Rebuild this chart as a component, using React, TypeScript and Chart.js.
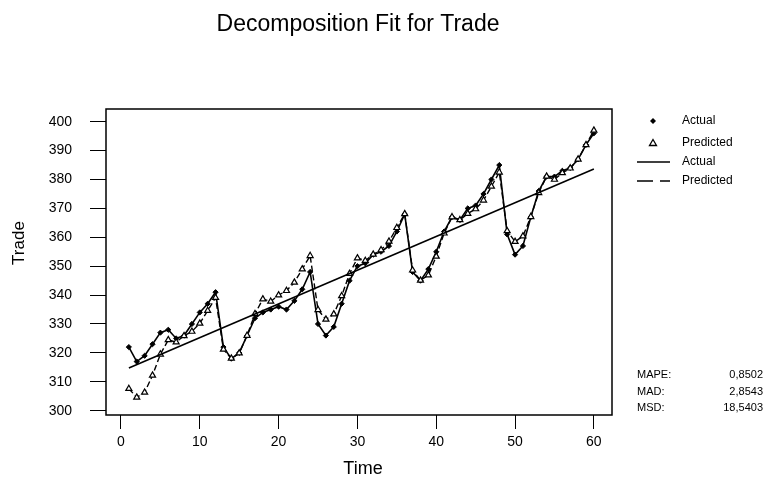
import React, { useEffect, useRef } from "react";
import { Chart, registerables } from "chart.js";

Chart.register(...registerables);

const actualValues = [
  322, 317, 319, 323, 327, 328, 325, 326, 330, 334, 337, 341,
  322, 318, 320, 326, 332, 334, 335, 336, 335, 338, 342, 348,
  330, 326, 329, 337, 345, 350, 351, 354, 355, 357, 362, 368,
  348, 345, 349, 355, 362, 367, 366, 370, 371, 375, 380, 385,
  361, 354, 357, 367, 376, 381, 381, 383, 384, 387, 392, 396,
];

const predictedValues = [
  307.6, 304.6, 306.3, 312.2, 319.5, 324.5, 323.7, 325.9, 327.4, 330.2, 334.6, 339.1,
  321.2, 318.1, 319.9, 326.0, 333.5, 338.6, 337.8, 340.0, 341.5, 344.4, 349.0, 353.6,
  334.9, 331.6, 333.4, 339.7, 347.4, 352.8, 351.9, 354.1, 355.6, 358.6, 363.3, 368.1,
  348.6, 345.1, 346.9, 353.4, 361.4, 367.0, 366.0, 368.2, 369.8, 372.8, 377.6, 382.5,
  362.2, 358.5, 360.4, 367.1, 375.4, 381.1, 380.0, 382.3, 383.9, 387.0, 392.0, 397.0,
];

const trendTimes = [1, 60];
const trendValues = [314.8, 383.6];

const xTickValues = [0, 10, 20, 30, 40, 50, 60];
const yTickValues = [300, 310, 320, 330, 340, 350, 360, 370, 380, 390, 400];

const statLabels = ["MAPE:", "MAD:", "MSD:"];
const statValues = ["0,8502", "2,8543", "18,5403"];

const FONT = "'Liberation Sans', Arial, Helvetica, sans-serif";

const decorPlugin = {
  id: "decor",
  afterDraw(chart: any) {
    const ctx = chart.ctx;
    const a = chart.chartArea;
    ctx.save();
    // frame
    ctx.strokeStyle = "#000";
    ctx.lineWidth = 1.5;
    ctx.setLineDash([]);
    ctx.strokeRect(a.left, a.top, a.right - a.left, a.bottom - a.top);

    ctx.fillStyle = "#000";
    // title
    ctx.font = `23px ${FONT}`;
    ctx.textAlign = "center";
    ctx.textBaseline = "alphabetic";
    ctx.fillText("Decomposition Fit for Trade", 358, 31);

    // axis titles
    ctx.font = `18px ${FONT}`;
    ctx.textBaseline = "middle";
    ctx.fillText("Time", 363, 469);
    ctx.save();
    ctx.translate(19.5, 243);
    ctx.rotate(-Math.PI / 2);
    ctx.font = `17px ${FONT}`;
    ctx.fillText("Trade", 0, 0);
    ctx.restore();

    // legend
    ctx.font = `12px ${FONT}`;
    ctx.textAlign = "left";
    ctx.textBaseline = "middle";
    const lx = 682;
    // diamond
    ctx.beginPath();
    ctx.moveTo(653, 118);
    ctx.lineTo(656, 121);
    ctx.lineTo(653, 124);
    ctx.lineTo(650, 121);
    ctx.closePath();
    ctx.fill();
    ctx.fillText("Actual", lx, 121);
    // triangle
    ctx.beginPath();
    ctx.moveTo(653, 139.5);
    ctx.lineTo(656.5, 145.5);
    ctx.lineTo(649.5, 145.5);
    ctx.closePath();
    ctx.lineWidth = 1.3;
    ctx.stroke();
    ctx.fillText("Predicted", lx, 143);
    // solid line
    ctx.lineWidth = 1.5;
    ctx.beginPath();
    ctx.moveTo(637, 162);
    ctx.lineTo(670, 162);
    ctx.stroke();
    ctx.fillText("Actual", lx, 162);
    // dashed line
    ctx.setLineDash([16, 7]);
    ctx.beginPath();
    ctx.moveTo(637, 181);
    ctx.lineTo(670, 181);
    ctx.stroke();
    ctx.setLineDash([]);
    ctx.fillText("Predicted", lx, 181);

    // stats
    ctx.font = `11px ${FONT}`;
    const sy = [375, 392, 408];
    statLabels.forEach((s, i) => {
      ctx.textAlign = "left";
      ctx.fillText(s, 637, sy[i]);
      ctx.textAlign = "right";
      ctx.fillText(statValues[i], 763, sy[i]);
    });
    ctx.restore();
  },
};

export default function App() {
  const ref = useRef<HTMLCanvasElement | null>(null);

  useEffect(() => {
    if (!ref.current) return;
    const chart = new Chart(ref.current, {
      type: "line",
      data: {
        datasets: [
          {
            label: "Trend",
            data: trendTimes.map((t, i) => ({ x: t, y: trendValues[i] })),
            borderColor: "#000",
            borderWidth: 1.6,
            pointRadius: 0,
            fill: false,
          },
          {
            label: "Predicted",
            data: predictedValues.map((v, i) => ({ x: i + 1, y: v })),
            borderColor: "#000",
            borderWidth: 1.4,
            borderDash: [6, 3],
            pointStyle: "triangle",
            pointRadius: 3.5,
            pointBorderWidth: 1.2,
            pointBackgroundColor: "#fff",
            pointBorderColor: "#000",
            fill: false,
          },
          {
            label: "Actual",
            data: actualValues.map((v, i) => ({ x: i + 1, y: v })),
            borderColor: "#000",
            borderWidth: 1.6,
            pointStyle: "rectRot",
            pointRadius: 2.6,
            pointBorderWidth: 1,
            pointBackgroundColor: "#000",
            pointBorderColor: "#000",
            fill: false,
          },
        ],
      },
      options: {
        responsive: false,
        animation: false,
        layout: { padding: { left: 0, top: 109, right: 156, bottom: 0 } },
        plugins: {
          legend: { display: false },
          tooltip: { enabled: false },
          title: { display: false },
        },
        scales: {
          x: {
            type: "linear",
            min: -1.9,
            max: 62.3,
            afterBuildTicks: (s: any) => {
              s.ticks = xTickValues.map((v) => ({ value: v }));
            },
            afterFit: (s: any) => {
              s.height = 65;
            },
            grid: {
              display: true,
              drawOnChartArea: false,
              drawTicks: true,
              tickLength: 14,
              color: "#000",
              lineWidth: 1,
            },
            border: { display: false },
            ticks: {
              color: "#000",
              font: { family: FONT, size: 14 },
              padding: 5,
              maxRotation: 0,
              autoSkip: false,
            },
          },
          y: {
            type: "linear",
            min: 298.5,
            max: 404.4,
            afterBuildTicks: (s: any) => {
              s.ticks = yTickValues.map((v) => ({ value: v }));
            },
            afterFit: (s: any) => {
              s.width = 106;
            },
            grid: {
              display: true,
              drawOnChartArea: false,
              drawTicks: true,
              tickLength: 16,
              color: "#000",
              lineWidth: 1,
            },
            border: { display: false },
            ticks: {
              color: "#000",
              font: { family: FONT, size: 14 },
              padding: 18,
              autoSkip: false,
            },
          },
        },
      },
      plugins: [decorPlugin],
    });
    return () => chart.destroy();
  }, []);

  return (
    <div style={{ position: "fixed", left: 0, top: 0, width: 768, height: 480, background: "#fff" }}>
      <canvas ref={ref} width={768} height={480} style={{ display: "block" }} />
    </div>
  );
}
